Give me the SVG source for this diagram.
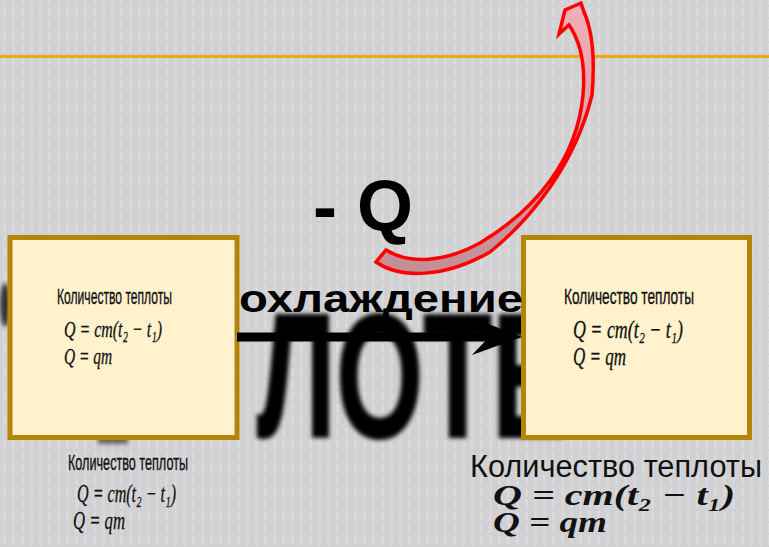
<svg xmlns="http://www.w3.org/2000/svg" width="769" height="547" viewBox="0 0 769 547">
<defs>
<pattern id="tex" width="9" height="12" patternUnits="userSpaceOnUse">
<rect width="9" height="12" fill="#d1d1d3"/>
<rect x="3" y="0" width="3" height="12" fill="#d9d9db"/>
<rect x="3" y="5" width="3" height="2" fill="#cfcfd1"/>
</pattern>
<filter id="blur" x="-20%" y="-20%" width="140%" height="140%"><feGaussianBlur stdDeviation="2.3"/></filter>
<linearGradient id="pink" x1="0" y1="0" x2="0" y2="1">
<stop offset="0" stop-color="#f2b0b8"/>
<stop offset="1" stop-color="#c28e96"/>
</linearGradient>
<style>
.box{fill:#fff2cc;stroke:#b5850a;stroke-width:5}
.lbl{font-family:"Liberation Sans Narrow","Liberation Sans",sans-serif;fill:#111;stroke:#111;stroke-width:0.35}
.m{font-family:"Liberation Serif","DejaVu Serif",serif;font-style:italic;fill:#111;stroke:#111;stroke-width:0.3}
.mb{font-family:"Liberation Serif","DejaVu Serif",serif;font-style:italic;font-weight:bold;fill:#111}
.big{font-family:"Liberation Sans",Arial,sans-serif;font-weight:bold;fill:#000}
</style>
</defs>
<rect width="769" height="547" fill="url(#tex)"/>
<rect x="0" y="55" width="769" height="3" fill="#eeaa0c"/>

<g id="bg-word" filter="url(#blur)">
<ellipse cx="5" cy="305" rx="5" ry="22" fill="#333"/>
<rect x="98" y="428" width="30" height="16" fill="#666"/>
<text class="big" x="257" y="437" font-size="177" textLength="310" lengthAdjust="spacingAndGlyphs" stroke="#000" stroke-width="2">ЛОТЕ</text>
</g>

<g id="box-left">
<rect class="box" x="10" y="237.5" width="227" height="200"/>
<text class="lbl" x="57" y="304" font-size="22" textLength="115" lengthAdjust="spacingAndGlyphs">Количество теплоты</text>
<text class="m" x="64" y="337" font-size="24" textLength="98" lengthAdjust="spacingAndGlyphs">Q = cm(t₂ − t₁)</text>
<text class="m" x="64" y="364" font-size="24" textLength="48" lengthAdjust="spacingAndGlyphs">Q = qm</text>
</g>

<g id="box-right">
<rect class="box" x="523.5" y="237.5" width="226" height="200"/>
<text class="lbl" x="564" y="304" font-size="22" textLength="130" lengthAdjust="spacingAndGlyphs">Количество теплоты</text>
<text class="m" x="573" y="338" font-size="24.5" textLength="110" lengthAdjust="spacingAndGlyphs">Q = cm(t₂ − t₁)</text>
<text class="m" x="573" y="365" font-size="24.5" textLength="53" lengthAdjust="spacingAndGlyphs">Q = qm</text>
</g>

<g id="label-cool">
<text class="big" x="239" y="312" font-size="38" textLength="284" lengthAdjust="spacingAndGlyphs">охлаждение</text>
</g>

<g id="connectors">
<line x1="237" y1="337" x2="490" y2="337" stroke="#000" stroke-width="9"/>
<polygon points="522,337 473,318 489,337 472,355" fill="#000"/>
<path d="M376,262 C400,279 445,278 490,252 C530,220 575,165 592,95 C595,60 592,30 584,12 L581,3 L565,10 L559,34 L569,25 C578,38 586,60 583,95 C577,160 535,210 480,243 C445,262 410,265 386,250 Z" fill="url(#pink)" stroke="#ff0000" stroke-width="3.5" stroke-linejoin="miter"/>
</g>

<g id="label-q">
<text class="big" x="313" y="231" font-size="72">- Q</text>
</g>

<g id="text-bottom-left">
<text class="lbl" x="68" y="470" font-size="22" textLength="120" lengthAdjust="spacingAndGlyphs">Количество теплоты</text>
<text class="m" x="77" y="502" font-size="25" textLength="99" lengthAdjust="spacingAndGlyphs">Q = cm(t₂ − t₁)</text>
<text class="m" x="73" y="529" font-size="25" textLength="52" lengthAdjust="spacingAndGlyphs">Q = qm</text>
</g>

<g id="text-bottom-right">
<text font-family="Liberation Sans, sans-serif" fill="#111" x="470" y="477" font-size="31" textLength="292" lengthAdjust="spacingAndGlyphs">Количество теплоты</text>
<text class="mb" x="493" y="505" font-size="30" textLength="242" lengthAdjust="spacingAndGlyphs">Q = cm(t₂ − t₁)</text>
<text class="mb" x="493" y="532" font-size="30" textLength="114" lengthAdjust="spacingAndGlyphs">Q = qm</text>
</g>
</svg>
